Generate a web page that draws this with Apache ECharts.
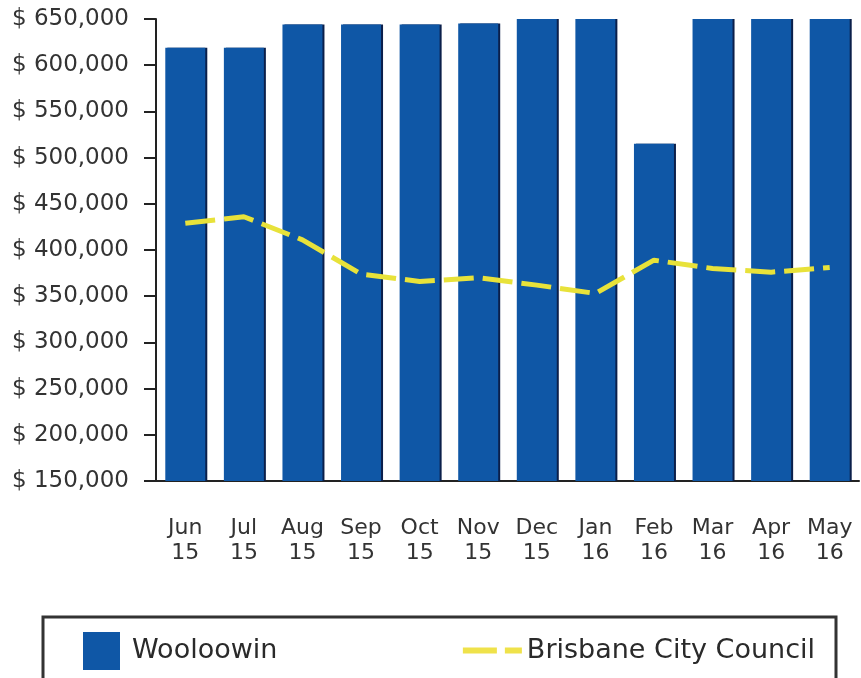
<!DOCTYPE html>
<html>
<head>
<meta charset="utf-8">
<script src="https://cdn.jsdelivr.net/npm/echarts@6/dist/echarts.min.js"></script>
<style>
html,body{margin:0;padding:0;background:#fff;}
#chart{width:861px;height:678px;}
</style>
</head>
<body>
<div id="chart"></div>
<script>
const categories = ['Jun\n15','Jul\n15','Aug\n15','Sep\n15','Oct\n15','Nov\n15','Dec\n15','Jan\n16','Feb\n16','Mar\n16','Apr\n16','May\n16'];
const wooloowin = [619000, 619000, 644000, 644000, 644000, 645000, 654000, 654000, 515000, 654000, 654000, 654000];
const brisbane = [429000, 436000, 411000, 374000, 366000, 370000, 362000, 353000, 389000, 380000, 376000, 381000];
const yMin = 150000, yMax = 650000, yStep = 50000;

const chart = echarts.init(document.getElementById('chart'), null, {renderer:'canvas'});
const font = '"DejaVu Sans", sans-serif';
chart.setOption({
  animation:false,
  backgroundColor:'#fff',
  grid:{left:156, right:2, top:19, bottom:197, containLabel:false},
  legend:[
    {data:[{name:'Wooloowin', icon:'rect'}], left:83, top:632, padding:0, itemWidth:37, itemHeight:38,
     textStyle:{fontFamily:font, fontSize:27, color:'#2a2a2a', padding:[0,0,0,7]}},
    {data:['Brisbane City Council'], right:46, top:637, padding:0, itemWidth:59, itemHeight:32,
     lineStyle:{color:'#efe24a', width:6, type:[34,8]},
     itemStyle:{opacity:0, borderWidth:0},
     textStyle:{fontFamily:font, fontSize:27, color:'#2a2a2a'}}
  ],
  graphic:[{type:'rect', shape:{x:43, y:617, width:793, height:64},
    style:{fill:'none', stroke:'#333', lineWidth:3}, z:10}],
  xAxis:{type:'category', data:categories, boundaryGap:true,
    axisLine:{lineStyle:{color:'#222', width:2}},
    axisTick:{alignWithLabel:true, length:14, lineStyle:{color:'#222', width:2}},
    axisLabel:{fontFamily:font, fontSize:22, color:'#333', margin:35, lineHeight:25, interval:0}
  },
  yAxis:{type:'value', min:yMin, max:yMax, interval:yStep,
    axisLine:{show:true, lineStyle:{color:'#222', width:2}},
    axisTick:{show:true, length:12, lineStyle:{color:'#222', width:2}},
    splitLine:{show:false},
    axisLabel:{fontFamily:font, fontSize:23, color:'#333', margin:27,
      formatter:v=>'$ '+v.toLocaleString('en-US')}
  },
  series:[
    {name:'Wooloowin', type:'bar', data:wooloowin, barWidth:40, clip:true,
     itemStyle:{color:'#0f57a6', shadowColor:'#0b1f4a', shadowOffsetX:2, shadowBlur:0}},
    {name:'Brisbane City Council', type:'line', data:brisbane, symbol:'none',
     lineStyle:{color:'#e8e23a', width:5, type:[30,9]}, itemStyle:{color:'#e8e23a'}, z:5}
  ]
});
</script>
</body>
</html>
